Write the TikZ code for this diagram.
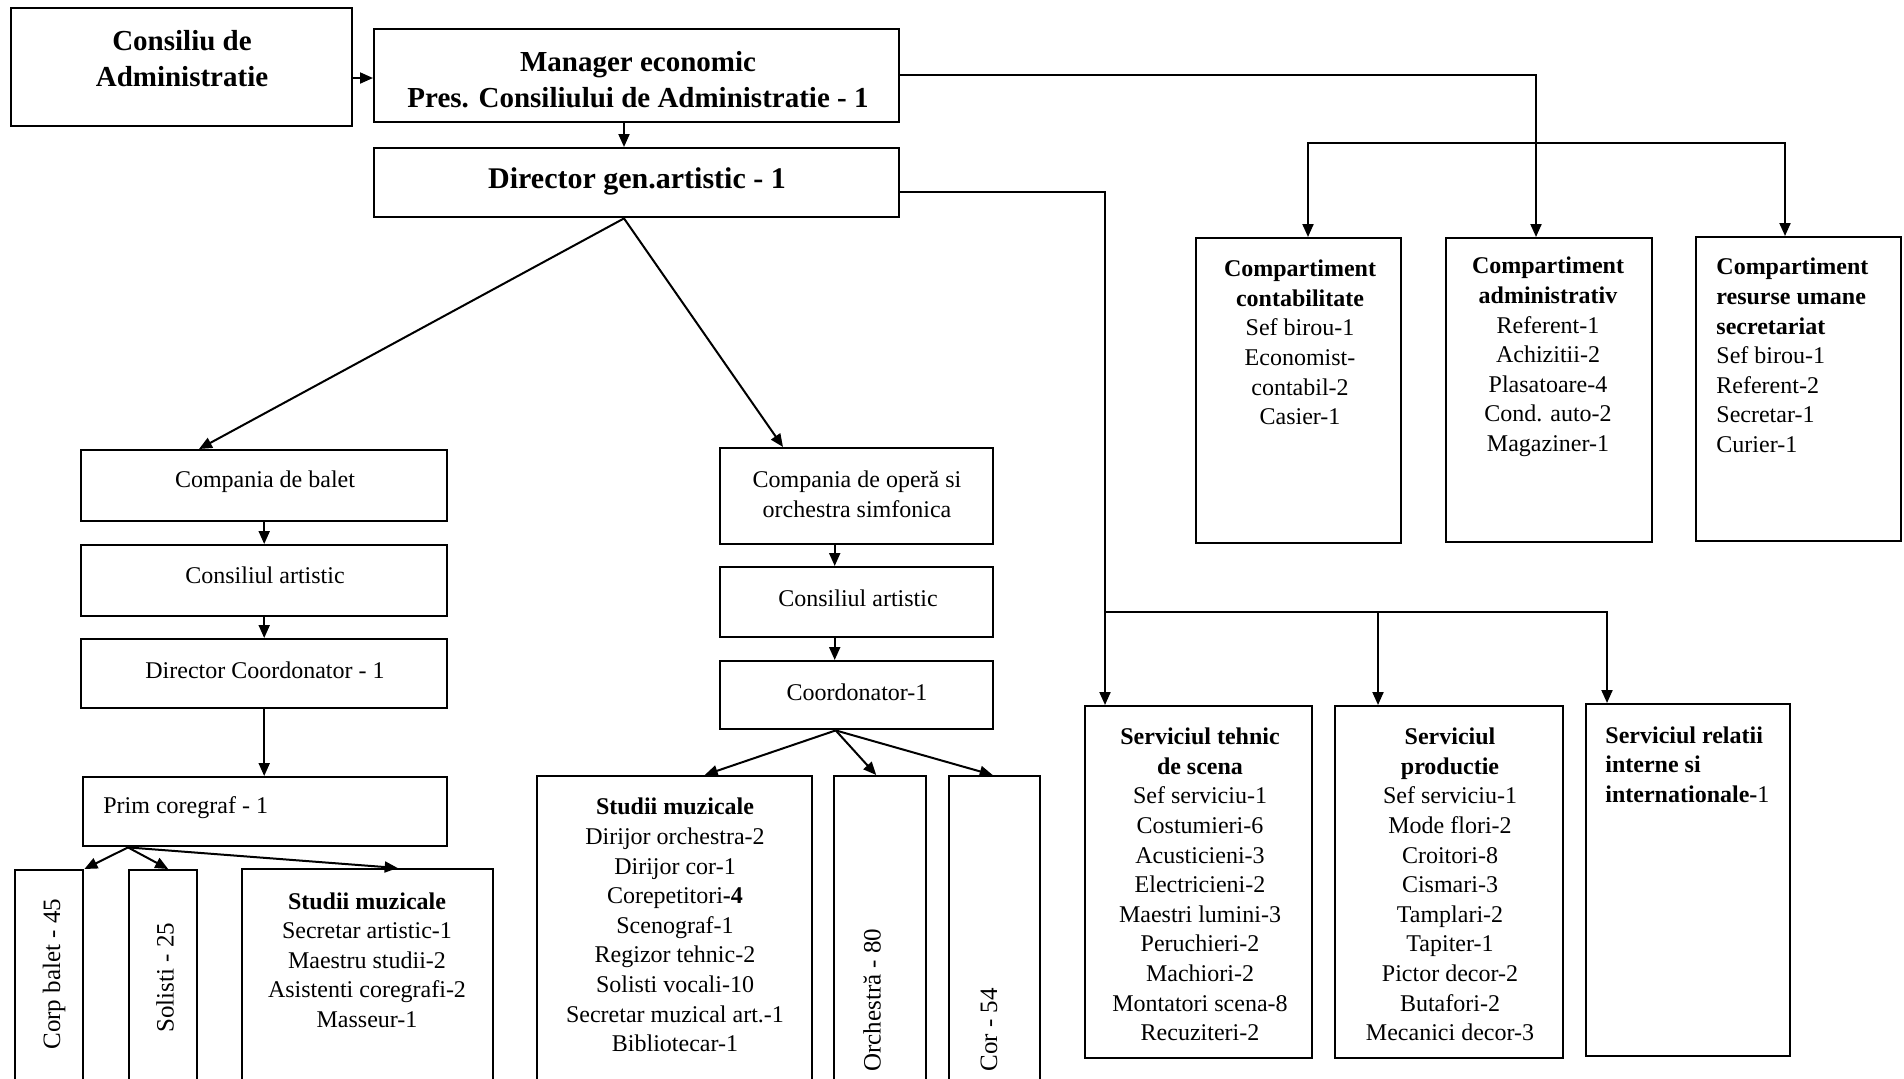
\documentclass[tikz,border=0pt]{standalone}
\usepackage{fontspec}
\setmainfont{Liberation Serif}
\usetikzlibrary{arrows.meta,calc}
\newcommand\bx[5]{\node[box, minimum width=#4*0.5pt, minimum height=#5*0.5pt] (#1) at (#2,#3) {};}
\begin{document}
\begin{tikzpicture}[x=0.5pt,y=-0.5pt,
 box/.style={draw, line width=1.2pt, inner sep=0pt, anchor=north west},
 arr/.style={line width=1pt, -{Triangle[length=6.5pt,width=5.5pt]}},
 txt/.style={inner sep=0pt, align=center, font=\fontsize{12}{14.8}\selectfont},
 ttl/.style={inner sep=0pt, align=center, font=\bfseries\fontsize{14.5}{18}\selectfont},
 rot/.style={inner sep=0pt, rotate=90, anchor=west, font=\fontsize{12.5}{15}\selectfont}]
\useasboundingbox (0,0) rectangle (1904,1078);
\clip (0,0) rectangle (1904,1078);
% boxes
\bx{cons}{10}{7}{341}{118}
\bx{mgr}{373}{28}{525}{93}
\bx{dir}{373}{147}{525}{69}
\bx{ca}{1195}{237}{205}{305}
\bx{cb}{1445}{237}{206}{304}
\bx{cc}{1695}{236}{205}{304}
\bx{s1}{1084}{705}{227}{352}
\bx{s2}{1334}{705}{228}{352}
\bx{s3}{1585}{703}{204}{352}
\bx{bal1}{80}{449}{366}{71}
\bx{bal2}{80}{544}{366}{71}
\bx{bal3}{80}{638}{366}{69}
\bx{bal4}{82}{776}{364}{69}
\bx{corp}{14}{869}{68}{240}
\bx{sol}{128}{869}{68}{240}
\bx{stb}{241}{868}{251}{240}
\bx{op1}{719}{447}{273}{96}
\bx{op2}{719}{566}{273}{70}
\bx{op3}{719}{660}{273}{68}
\bx{sto}{536}{775}{275}{330}
\bx{orch}{833}{775}{92}{330}
\bx{cor}{948}{775}{91}{330}
% texts
\node[ttl] (tcons) at (182,59) {Consiliu de\\Administratie};
\node[ttl] (tmgr) at (638,80) {Manager economic\\Pres. Consiliului de Administratie - 1};
\node[inner sep=0pt, font=\bfseries\fontsize{15}{18}\selectfont] (tdir) at (637,181) {Director gen.artistic - 1};
\node[txt] (tca) at (1300,342.5) {\textbf{Compartiment}\\\textbf{contabilitate}\\Sef birou-1\\Economist-\\contabil-2\\Casier-1};
\node[txt] (tcb) at (1548,357) {\textbf{Compartiment}\\\textbf{administrativ}\\Referent-1\\Achizitii-2\\Plasatoare-4\\Cond. auto-2\\Magaziner-1};
\node[txt, align=left, anchor=west] (tcc) at (1716,355.5) {\textbf{Compartiment}\\\textbf{resurse umane}\\\textbf{secretariat}\\Sef birou-1\\Referent-2\\Secretar-1\\Curier-1};
\node[txt] (ts1) at (1200,884.5) {\textbf{Serviciul tehnic}\\\textbf{de scena}\\Sef serviciu-1\\Costumieri-6\\Acusticieni-3\\Electricieni-2\\Maestri lumini-3\\Peruchieri-2\\Machiori-2\\Montatori scena-8\\Recuziteri-2};
\node[txt] (ts2) at (1450,884.5) {\textbf{Serviciul}\\\textbf{productie}\\Sef serviciu-1\\Mode flori-2\\Croitori-8\\Cismari-3\\Tamplari-2\\Tapiter-1\\Pictor decor-2\\Butafori-2\\Mecanici decor-3};
\node[txt, align=left, anchor=west] (ts3) at (1605,764.5) {\textbf{Serviciul relatii}\\\textbf{interne si}\\\textbf{internationale-}1};
\node[txt] (tb1) at (265,482) {Compania de balet};
\node[txt] (tb2) at (265,575) {Consiliul artistic};
\node[txt] (tb3) at (265,670) {Director Coordonator - 1};
\node[txt, anchor=west] (tb4) at (103,808) {Prim coregraf - 1};
\node[rot] (tcorp) at (54,1050) {Corp balet - 45};
\node[rot] (tsol) at (165,1033) {Solisti - 25};
\node[txt] (tstb) at (367,960) {\textbf{Studii muzicale}\\Secretar artistic-1\\Maestru studii-2\\Asistenti coregrafi-2\\Masseur-1};
\node[txt] (to1) at (857,494) {Compania de operă si\\orchestra simfonica};
\node[txt] (to2) at (858,598) {Consiliul artistic};
\node[txt] (to3) at (857,692) {Coordonator-1};
\node[txt] (tsto) at (675,925) {\textbf{Studii muzicale}\\Dirijor orchestra-2\\Dirijor cor-1\\Corepetitori\textbf{-4}\\Scenograf-1\\Regizor tehnic-2\\Solisti vocali-10\\Secretar muzical art.-1\\Bibliotecar-1};
\node[rot] (torch) at (872,1072) {Orchestră - 80};
\node[rot] (tcor) at (989,1072) {Cor - 54};
% connectors
\coordinate (yc) at (0,78);
\draw[arr] (cons.east |- yc) -- (mgr.west |- yc);
\draw[arr] ($(mgr.south west)+(251,0)$) -- ($(dir.north west)+(251,0)$);
\coordinate (kB) at (1536,75);
\draw[arr] (mgr.east |- kB) -- (kB) -- (kB |- cb.north);
\coordinate (kA) at (1308,143);
\coordinate (kC) at (1785,143);
\draw[arr] (kB |- kA) -- (kA) -- (kA |- ca.north);
\draw[arr] (kB |- kA) -- (kC) -- (kC |- cc.north);
\coordinate (kS) at (1105,192);
\draw[arr] (dir.east |- kS) -- (kS) -- (kS |- s1.north);
\coordinate (kS2) at (1378,612);
\coordinate (kS3) at (1607,612);
\draw[arr] (kS |- kS2) -- (kS2) -- (kS2 |- s2.north);
\draw[arr] (kS2) -- (kS3) -- (kS3 |- s3.north);
\coordinate (dB) at ($(dir.south west)+(251,0)$);
\draw[arr] (dB) -- ($(bal1.north west)+(119,0)$);
\draw[arr] (dB) -- ($(op1.north west)+(64,0)$);
\draw[arr] (bal1.south) -- (bal2.north);
\draw[arr] (bal2.south) -- (bal3.north);
\draw[arr] (bal3.south) -- (bal4.north -| bal3.south);
\coordinate (pB) at ($(bal4.south west)+(46,0)$);
\draw[arr] (pB) -- (corp.north east);
\draw[arr] (pB) -- ($(sol.north)+(5,0)$);
\draw[arr] (pB) -- ($(stb.north)+(30,0)$);
\draw[arr] ($(op1.south)+(-22,0)$) -- ($(op2.north)+(-22,0)$);
\draw[arr] ($(op2.south)+(-22,0)$) -- ($(op3.north)+(-22,0)$);
\coordinate (oB) at ($(op3.south)+(-21,0)$);
\draw[arr] (oB) -- ($(sto.north)+(30,0)$);
\draw[arr] (oB) -- ($(orch.north)+(-4,0)$);
\draw[arr] (oB) -- ($(cor.north)+(-2,0)$);
\end{tikzpicture}
\end{document}
